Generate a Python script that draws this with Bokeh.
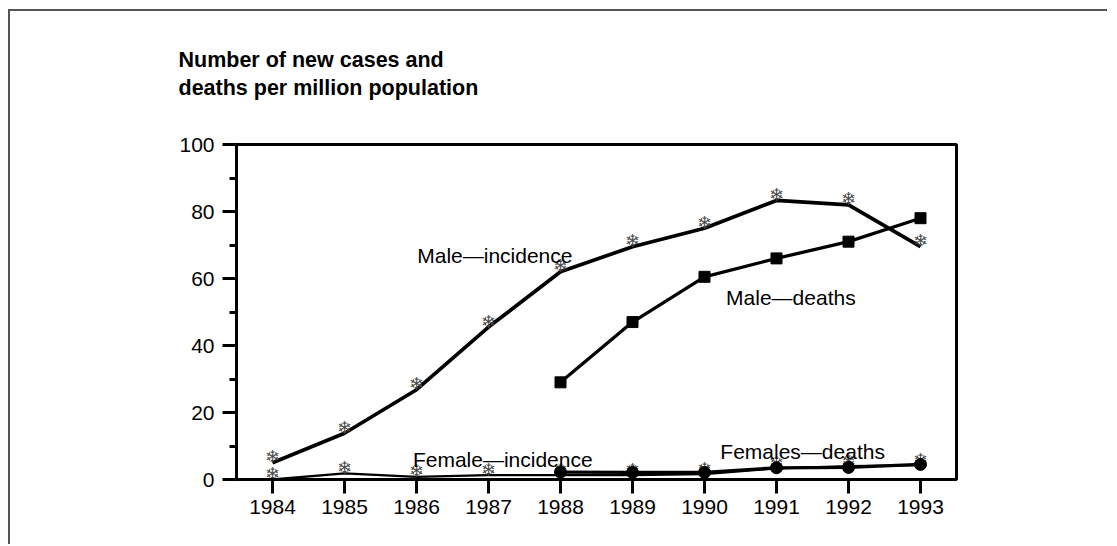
from bokeh.plotting import figure
from bokeh.models import Range1d, FixedTicker, Label, Title
from bokeh.core.properties import value
from bokeh.embed import file_html
from bokeh.resources import INLINE

# ---- data ----
years = [1984, 1985, 1986, 1987, 1988, 1989, 1990, 1991, 1992, 1993]
male_incidence = [5.0, 13.8, 26.8, 45.5, 62.0, 69.5, 75.0, 83.3, 82.0, 69.5]
female_incidence = [0.0, 1.8, 0.8, 1.3, 1.3, 1.3, 1.6, 3.3, 4.0, 4.3]
death_years = [1988, 1989, 1990, 1991, 1992, 1993]
male_deaths = [29.0, 47.0, 60.5, 66.0, 71.0, 78.0]
female_deaths = [2.2, 2.1, 2.1, 3.5, 3.6, 4.5]
y_ticks = [0, 20, 40, 60, 80, 100]
title_lines = ["Number of new cases and", "deaths per million population"]
series_labels = ["Male\u2014incidence", "Male\u2014deaths", "Female\u2014incidence", "Females\u2014deaths"]

FONT = "Liberation Sans"

p = figure(
    frame_width=720, frame_height=335,
    min_border_left=226, min_border_top=133, min_border_right=151, min_border_bottom=65,
    x_range=Range1d(1983.5, 1993.5), y_range=Range1d(0, 100),
    output_backend="svg", toolbar_location=None,
)
p.styles = {"border-top": "2px solid #555555", "border-left": "2px solid #555555",
            "margin-top": "9px", "margin-left": "8px"}
p.background_fill_color = "white"
p.border_fill_color = "white"
p.grid.visible = False
p.outline_line_color = "black"
p.outline_line_width = 3

# axes
for ax in (p.xaxis[0], p.yaxis[0]):
    ax.axis_line_width = 3
    ax.axis_line_color = "black"
    ax.major_tick_line_width = 3
    ax.minor_tick_line_width = 3
    ax.major_tick_in = 0
    ax.major_tick_out = 14
    ax.minor_tick_in = 0
    ax.minor_tick_out = 7
    ax.major_label_text_font = FONT
    ax.major_label_text_font_size = "21px"
    ax.major_label_text_color = "black"
    ax.major_tick_line_color = "black"
    ax.minor_tick_line_color = "black"

p.xaxis.ticker = FixedTicker(ticks=years)
p.xaxis.minor_tick_line_color = None
p.xaxis.major_label_standoff = 6
p.yaxis.ticker = FixedTicker(ticks=y_ticks, minor_ticks=[10, 30, 50, 70, 90])
p.yaxis.major_label_standoff = 8

# lines
p.line(years, male_incidence, line_color="black", line_width=3.7)
p.line(death_years, male_deaths, line_color="black", line_width=3.3)
p.line(years, female_incidence, line_color="black", line_width=2.3)
p.line(death_years, female_deaths, line_color="black", line_width=3.3)

# snowflake markers (incidence)
flake = "\u2744"
for ys in (male_incidence, female_incidence):
    p.text(years, ys, text=[flake] * len(years), text_font=value("DejaVu Sans"),
           text_font_size="18px", text_color="#4a4a4a", text_align="center",
           text_baseline="middle", y_offset=-6)

# death markers
p.scatter(death_years, male_deaths, marker="square", size=11, fill_color="black", line_color="black")
p.scatter(death_years, female_deaths, marker="circle", size=12, fill_color="black", line_color="black")

# title lines: spacer nearest the frame, then line 2, then line 1
p.add_layout(Title(text=" ", standoff=41, text_font_size="1px", text_color="white"), "above")
p.add_layout(Title(text=title_lines[1], align="left", offset=-58, standoff=2,
                   text_font=FONT, text_font_style="bold", text_font_size="21.5px",
                   text_color="black"), "above")
p.add_layout(Title(text=title_lines[0], align="left", offset=-58, standoff=2,
                   text_font=FONT, text_font_style="bold", text_font_size="21.5px",
                   text_color="black"), "above")

# series labels
label_pos = [(1986.01, 67.0), (1990.30, 54.3), (1985.95, 6.0), (1990.22, 8.3)]
for txt, (lx, ly) in zip(series_labels, label_pos):
    p.add_layout(Label(x=lx, y=ly, text=txt, text_font=FONT, text_font_size="21px",
                       text_color="black", text_baseline="alphabetic"))

open("out.html", "w").write(file_html(p, INLINE))
